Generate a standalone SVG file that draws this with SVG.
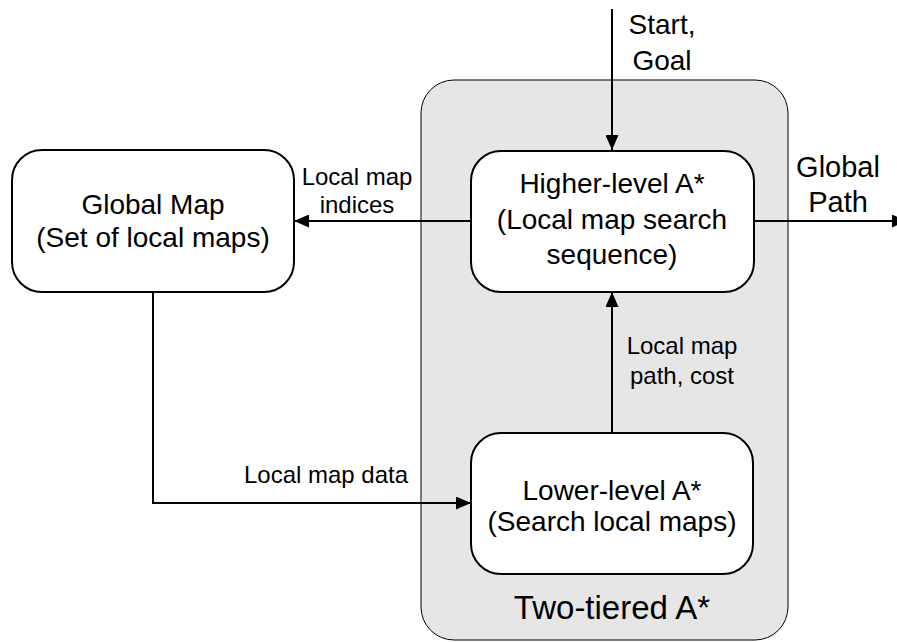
<svg xmlns="http://www.w3.org/2000/svg" width="897" height="642" viewBox="0 0 897 642">
<style>
.node{fill:#fff;stroke:#000;stroke-width:2}
.t{font-family:"Liberation Sans",Arial,sans-serif;fill:#000;text-anchor:middle}
.n{font-size:28px}
.l{font-size:24px}
.c{fill:none;stroke:#000;stroke-width:2}
</style>
<defs>
<marker id="ah" markerWidth="15" markerHeight="13" refX="15" refY="6.5" orient="auto" markerUnits="userSpaceOnUse">
<path d="M0,0 L15,6.5 L0,13 Z" fill="#000"/>
</marker>
</defs>
<rect width="897" height="642" fill="#fff"/>
<g id="container">
<rect x="421" y="80" width="367" height="560" rx="33" fill="#e6e6e6" stroke="#000" stroke-width="1"/>
<text class="t" x="612" y="619" font-size="33">Two-tiered A*</text>
</g>
<g id="connectors">
<line class="c" x1="612" y1="9" x2="612" y2="150" marker-end="url(#ah)"/>
<line class="c" x1="471" y1="221" x2="294" y2="221" marker-end="url(#ah)"/>
<line class="c" x1="754" y1="221" x2="907" y2="221" marker-end="url(#ah)"/>
<line class="c" x1="612" y1="433" x2="612" y2="292" marker-end="url(#ah)"/>
<polyline class="c" points="153,292 153,503 471,503" marker-end="url(#ah)"/>
<text class="t" x="662" y="34" font-size="28">Start,</text>
<text class="t" x="662" y="70" font-size="28">Goal</text>
<text class="t l" x="357" y="185">Local map</text>
<text class="t l" x="357" y="213">indices</text>
<text class="t" x="838" y="177" font-size="29">Global</text>
<text class="t" x="838" y="212" font-size="29">Path</text>
<text class="t l" x="682" y="354">Local map</text>
<text class="t l" x="682" y="384">path, cost</text>
<text class="t l" x="326" y="483">Local map data</text>
</g>
<g id="global-map">
<rect class="node" x="12" y="150" width="282" height="142" rx="30"/>
<text class="t n" x="153" y="214">Global Map</text>
<text class="t n" x="153" y="247">(Set of local maps)</text>
</g>
<g id="higher-level">
<rect class="node" x="471" y="151" width="283" height="141" rx="30"/>
<text class="t n" x="612" y="193">Higher-level A*</text>
<text class="t n" x="612" y="229">(Local map search</text>
<text class="t n" x="612" y="264">sequence)</text>
</g>
<g id="lower-level">
<rect class="node" x="471" y="433" width="282" height="141" rx="30"/>
<text class="t n" x="612" y="500">Lower-level A*</text>
<text class="t n" x="612" y="531">(Search local maps)</text>
</g>
</svg>
